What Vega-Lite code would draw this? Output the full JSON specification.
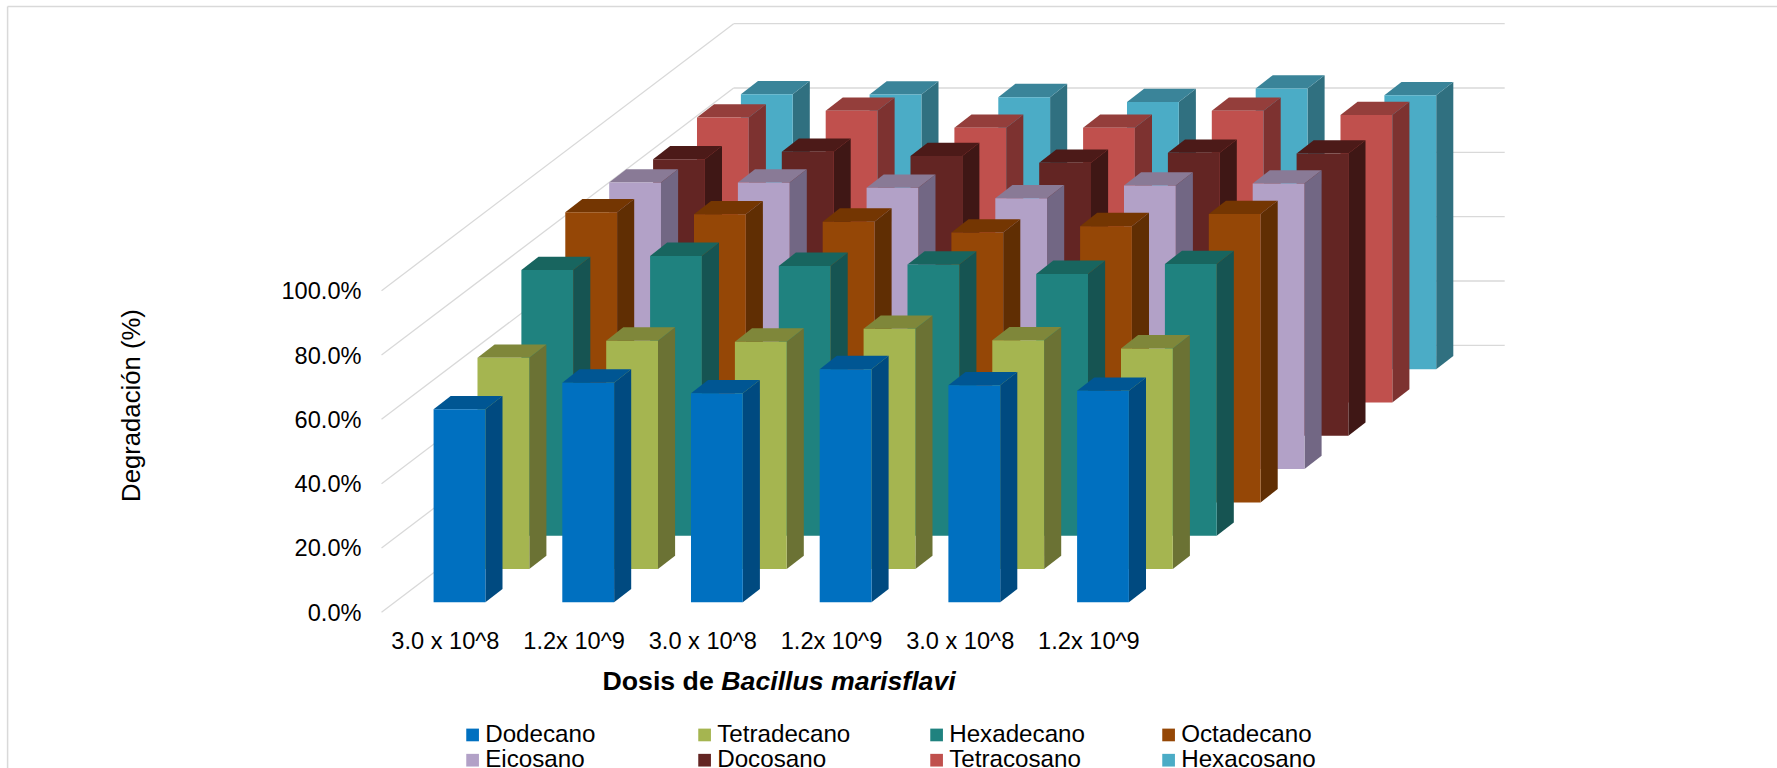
{
"$schema":"https://vega.github.io/schema/vega-lite/v6.json",
"width":1777,"height":768,"padding":0,"autosize":"none","background":"white",
"config":{"view":{"stroke":null},"axis":{"grid":false,"ticks":false,"domain":false,"title":null},"font":"Liberation Sans"},
"data":{"values":[
{"grupo":0,"serie":"Dodecano","s":0,"valor":60.0},{"grupo":1,"serie":"Dodecano","s":0,"valor":68.3},{"grupo":2,"serie":"Dodecano","s":0,"valor":65.0},{"grupo":3,"serie":"Dodecano","s":0,"valor":72.5},{"grupo":4,"serie":"Dodecano","s":0,"valor":67.5},{"grupo":5,"serie":"Dodecano","s":0,"valor":65.8},
{"grupo":0,"serie":"Tetradecano","s":1,"valor":65.7},{"grupo":1,"serie":"Tetradecano","s":1,"valor":71.0},{"grupo":2,"serie":"Tetradecano","s":1,"valor":70.7},{"grupo":3,"serie":"Tetradecano","s":1,"valor":74.7},{"grupo":4,"serie":"Tetradecano","s":1,"valor":71.1},{"grupo":5,"serie":"Tetradecano","s":1,"valor":68.6},
{"grupo":0,"serie":"Hexadecano","s":2,"valor":82.6},{"grupo":1,"serie":"Hexadecano","s":2,"valor":87.0},{"grupo":2,"serie":"Hexadecano","s":2,"valor":83.9},{"grupo":3,"serie":"Hexadecano","s":2,"valor":84.3},{"grupo":4,"serie":"Hexadecano","s":2,"valor":81.4},{"grupo":5,"serie":"Hexadecano","s":2,"valor":84.5},
{"grupo":0,"serie":"Octadecano","s":3,"valor":90.2},{"grupo":1,"serie":"Octadecano","s":3,"valor":89.6},{"grupo":2,"serie":"Octadecano","s":3,"valor":87.3},{"grupo":3,"serie":"Octadecano","s":3,"valor":83.9},{"grupo":4,"serie":"Octadecano","s":3,"valor":85.9},{"grupo":5,"serie":"Octadecano","s":3,"valor":89.7},
{"grupo":0,"serie":"Eicosano","s":4,"valor":89.1},{"grupo":1,"serie":"Eicosano","s":4,"valor":89.1},{"grupo":2,"serie":"Eicosano","s":4,"valor":87.5},{"grupo":3,"serie":"Eicosano","s":4,"valor":84.2},{"grupo":4,"serie":"Eicosano","s":4,"valor":88.2},{"grupo":5,"serie":"Eicosano","s":4,"valor":88.8},
{"grupo":0,"serie":"Docosano","s":5,"valor":86.0},{"grupo":1,"serie":"Docosano","s":5,"valor":88.3},{"grupo":2,"serie":"Docosano","s":5,"valor":87.0},{"grupo":3,"serie":"Docosano","s":5,"valor":84.9},{"grupo":4,"serie":"Docosano","s":5,"valor":88.0},{"grupo":5,"serie":"Docosano","s":5,"valor":87.8},
{"grupo":0,"serie":"Tetracosano","s":6,"valor":88.6},{"grupo":1,"serie":"Tetracosano","s":6,"valor":90.7},{"grupo":2,"serie":"Tetracosano","s":6,"valor":85.4},{"grupo":3,"serie":"Tetracosano","s":6,"valor":85.4},{"grupo":4,"serie":"Tetracosano","s":6,"valor":90.7},{"grupo":5,"serie":"Tetracosano","s":6,"valor":89.4},
{"grupo":0,"serie":"Hexacosano","s":7,"valor":85.5},{"grupo":1,"serie":"Hexacosano","s":7,"valor":85.4},{"grupo":2,"serie":"Hexacosano","s":7,"valor":84.6},{"grupo":3,"serie":"Hexacosano","s":7,"valor":83.1},{"grupo":4,"serie":"Hexacosano","s":7,"valor":87.3},{"grupo":5,"serie":"Hexacosano","s":7,"valor":85.2}
]},
"transform":[
{"calculate":"datum.grupo-0.0995+0.3411*datum.s","as":"xL"},
{"calculate":"datum.xL+0.4025","as":"xR"},
{"calculate":"3.11+10.354*datum.s","as":"yB"},
{"calculate":"datum.yB+datum.valor","as":"yT"},
{"calculate":"[0,1]","as":"t"},
{"flatten":["t"]},
{"calculate":"datum.xR+0.1329*datum.t","as":"xS"},
{"calculate":"datum.xL+0.1329*datum.t","as":"xA"},
{"calculate":"datum.yB+4.136*datum.t","as":"yS0"},
{"calculate":"datum.yT+4.136*datum.t","as":"yS1"}
],
"layer":[
{"data":{"values":[{"borde":0}]},"layer":[
{"mark":{"type":"rule","color":"#d9d9d9","strokeWidth":1.5},"encoding":{
"x":{"datum":-3.4095,"type":"quantitative","scale":{"domain":[-3.4685,10.3387],"nice":false,"zero":false},
"axis":{"orient":"bottom","offset":-119.7,"values":[0,1,2,3,4,5],"labelExpr":"datum.value%2==0?'3.0 x 10^8':'1.2x 10^9'","labelFontSize":23.6,"labelColor":"#000","labelPadding":0,"labelBaseline":"alphabetic","labelAngle":0,"labelFlush":false,"labelOverlap":false,"labelOffset":-1.5,"title":null}},
"y":{"datum":188.4,"type":"quantitative","scale":{"domain":[-48.41,190.39],"nice":false,"zero":false},
"axis":{"orient":"left","offset":-361,"values":[0,20,40,60,80,100],"labelExpr":"format(datum.value,'.1f')+'%'","labelFontSize":23.6,"labelColor":"#000","labelPadding":0,"labelOverlap":false,"labelOffset":1,"title":"Degradación (%)","titleFontSize":25.7,"titleFontWeight":"normal","titleColor":"#000","titleX":-230,"titleY":405,"titleBaseline":"middle"}},
"y2":{"datum":-48.41}}},
{"mark":{"type":"rule","color":"#d9d9d9","strokeWidth":1.5},"encoding":{"x":{"datum":-3.4095,"type":"quantitative"},"x2":{"datum":10.3387},"y":{"datum":188.4,"type":"quantitative"}}}
]},
{"data":{"values":[{"nivel":0},{"nivel":20},{"nivel":40},{"nivel":60},{"nivel":80},{"nivel":100}]},"transform":[{"calculate":"datum.nivel+83.02","as":"fondo"}],"layer":[
{"mark":{"type":"rule","color":"#d9d9d9","strokeWidth":1.3},"encoding":{"x":{"datum":-0.504,"type":"quantitative"},"x2":{"datum":2.232},"y":{"field":"nivel","type":"quantitative"},"y2":{"field":"fondo"}}},
{"mark":{"type":"rule","color":"#d9d9d9","strokeWidth":1.3},"encoding":{"x":{"datum":2.232,"type":"quantitative"},"x2":{"datum":8.223},"y":{"field":"fondo","type":"quantitative"}}}
]},
{"transform":[{"filter":"datum.s==7"}],"layer":[
{"mark":{"type":"area","orient":"vertical","color":"#307080"},"encoding":{"x":{"field":"xS","type":"quantitative"},"y":{"field":"yS1","type":"quantitative"},"y2":{"field":"yS0"},"detail":{"field":"grupo"}}},
{"mark":{"type":"area","orient":"horizontal","color":"#3A8499"},"encoding":{"y":{"field":"yS1","type":"quantitative"},"x":{"field":"xA","type":"quantitative"},"x2":{"field":"xS"},"detail":{"field":"grupo"}}},
{"transform":[{"filter":"datum.t==0"}],"mark":{"type":"rect"},"encoding":{"x":{"field":"xL","type":"quantitative"},"x2":{"field":"xR"},"y":{"field":"yT","type":"quantitative"},"y2":{"field":"yB"},
"color":{"field":"serie","type":"nominal","scale":{"domain":["Dodecano","Tetradecano","Hexadecano","Octadecano","Eicosano","Docosano","Tetracosano","Hexacosano"],"range":["#0070C0","#A5B550","#1F827F","#954706","#B2A1C7","#632523","#C0504D","#4BACC6"]},
"legend":{"orient":"none","direction":"horizontal","legendX":460.5,"legendY":722.5,"columns":4,"title":null,"gridAlign":"all","symbolType":"square","symbolSize":161,"symbolStrokeWidth":0,"labelFontSize":24.2,"labelColor":"#000","labelOffset":0.5,"columnPadding":71,"rowPadding":0.6,"labelLimit":300}}}}
]},
{"transform":[{"filter":"datum.s==6"}],"layer":[
{"mark":{"type":"area","orient":"vertical","color":"#7D3230"},"encoding":{"x":{"field":"xS","type":"quantitative"},"y":{"field":"yS1","type":"quantitative"},"y2":{"field":"yS0"},"detail":{"field":"grupo"}}},
{"mark":{"type":"area","orient":"horizontal","color":"#943E3B"},"encoding":{"y":{"field":"yS1","type":"quantitative"},"x":{"field":"xA","type":"quantitative"},"x2":{"field":"xS"},"detail":{"field":"grupo"}}},
{"transform":[{"filter":"datum.t==0"}],"mark":{"type":"rect"},"encoding":{"x":{"field":"xL","type":"quantitative"},"x2":{"field":"xR"},"y":{"field":"yT","type":"quantitative"},"y2":{"field":"yB"},"color":{"field":"serie","type":"nominal"}}}
]},
{"transform":[{"filter":"datum.s==5"}],"layer":[
{"mark":{"type":"area","orient":"vertical","color":"#3F1715"},"encoding":{"x":{"field":"xS","type":"quantitative"},"y":{"field":"yS1","type":"quantitative"},"y2":{"field":"yS0"},"detail":{"field":"grupo"}}},
{"mark":{"type":"area","orient":"horizontal","color":"#4C1A18"},"encoding":{"y":{"field":"yS1","type":"quantitative"},"x":{"field":"xA","type":"quantitative"},"x2":{"field":"xS"},"detail":{"field":"grupo"}}},
{"transform":[{"filter":"datum.t==0"}],"mark":{"type":"rect"},"encoding":{"x":{"field":"xL","type":"quantitative"},"x2":{"field":"xR"},"y":{"field":"yT","type":"quantitative"},"y2":{"field":"yB"},"color":{"field":"serie","type":"nominal"}}}
]},
{"transform":[{"filter":"datum.s==4"}],"layer":[
{"mark":{"type":"area","orient":"vertical","color":"#726784"},"encoding":{"x":{"field":"xS","type":"quantitative"},"y":{"field":"yS1","type":"quantitative"},"y2":{"field":"yS0"},"detail":{"field":"grupo"}}},
{"mark":{"type":"area","orient":"horizontal","color":"#897A96"},"encoding":{"y":{"field":"yS1","type":"quantitative"},"x":{"field":"xA","type":"quantitative"},"x2":{"field":"xS"},"detail":{"field":"grupo"}}},
{"transform":[{"filter":"datum.t==0"}],"mark":{"type":"rect"},"encoding":{"x":{"field":"xL","type":"quantitative"},"x2":{"field":"xR"},"y":{"field":"yT","type":"quantitative"},"y2":{"field":"yB"},"color":{"field":"serie","type":"nominal"}}}
]},
{"transform":[{"filter":"datum.s==3"}],"layer":[
{"mark":{"type":"area","orient":"vertical","color":"#602E03"},"encoding":{"x":{"field":"xS","type":"quantitative"},"y":{"field":"yS1","type":"quantitative"},"y2":{"field":"yS0"},"detail":{"field":"grupo"}}},
{"mark":{"type":"area","orient":"horizontal","color":"#743602"},"encoding":{"y":{"field":"yS1","type":"quantitative"},"x":{"field":"xA","type":"quantitative"},"x2":{"field":"xS"},"detail":{"field":"grupo"}}},
{"transform":[{"filter":"datum.t==0"}],"mark":{"type":"rect"},"encoding":{"x":{"field":"xL","type":"quantitative"},"x2":{"field":"xR"},"y":{"field":"yT","type":"quantitative"},"y2":{"field":"yB"},"color":{"field":"serie","type":"nominal"}}}
]},
{"transform":[{"filter":"datum.s==2"}],"layer":[
{"mark":{"type":"area","orient":"vertical","color":"#165452"},"encoding":{"x":{"field":"xS","type":"quantitative"},"y":{"field":"yS1","type":"quantitative"},"y2":{"field":"yS0"},"detail":{"field":"grupo"}}},
{"mark":{"type":"area","orient":"horizontal","color":"#18655F"},"encoding":{"y":{"field":"yS1","type":"quantitative"},"x":{"field":"xA","type":"quantitative"},"x2":{"field":"xS"},"detail":{"field":"grupo"}}},
{"transform":[{"filter":"datum.t==0"}],"mark":{"type":"rect"},"encoding":{"x":{"field":"xL","type":"quantitative"},"x2":{"field":"xR"},"y":{"field":"yT","type":"quantitative"},"y2":{"field":"yB"},"color":{"field":"serie","type":"nominal"}}}
]},
{"transform":[{"filter":"datum.s==1"}],"layer":[
{"mark":{"type":"area","orient":"vertical","color":"#6B7234"},"encoding":{"x":{"field":"xS","type":"quantitative"},"y":{"field":"yS1","type":"quantitative"},"y2":{"field":"yS0"},"detail":{"field":"grupo"}}},
{"mark":{"type":"area","orient":"horizontal","color":"#7F873A"},"encoding":{"y":{"field":"yS1","type":"quantitative"},"x":{"field":"xA","type":"quantitative"},"x2":{"field":"xS"},"detail":{"field":"grupo"}}},
{"transform":[{"filter":"datum.t==0"}],"mark":{"type":"rect"},"encoding":{"x":{"field":"xL","type":"quantitative"},"x2":{"field":"xR"},"y":{"field":"yT","type":"quantitative"},"y2":{"field":"yB"},"color":{"field":"serie","type":"nominal"}}}
]},
{"transform":[{"filter":"datum.s==0"}],"layer":[
{"mark":{"type":"area","orient":"vertical","color":"#004A80"},"encoding":{"x":{"field":"xS","type":"quantitative"},"y":{"field":"yS1","type":"quantitative"},"y2":{"field":"yS0"},"detail":{"field":"grupo"}}},
{"mark":{"type":"area","orient":"horizontal","color":"#005693"},"encoding":{"y":{"field":"yS1","type":"quantitative"},"x":{"field":"xA","type":"quantitative"},"x2":{"field":"xS"},"detail":{"field":"grupo"}}},
{"transform":[{"filter":"datum.t==0"}],"mark":{"type":"rect"},"encoding":{"x":{"field":"xL","type":"quantitative"},"x2":{"field":"xR"},"y":{"field":"yT","type":"quantitative"},"y2":{"field":"yB"},"color":{"field":"serie","type":"nominal"}}}
]},
{"data":{"values":[{"parte":"Dosis de","x":1.2129},{"parte":"Bacillus marisflavi","x":2.136}]},"transform":[{"calculate":"-24.16","as":"base"}],"layer":[
{"transform":[{"filter":"datum.x<2"}],"mark":{"type":"text","align":"left","baseline":"alphabetic","fontSize":26.7,"fontWeight":"bold","color":"#000"},"encoding":{"x":{"field":"x","type":"quantitative"},"y":{"field":"base","type":"quantitative"},"text":{"field":"parte"}}},
{"transform":[{"filter":"datum.x>2"}],"mark":{"type":"text","align":"left","baseline":"alphabetic","fontSize":26.7,"fontWeight":"bold","fontStyle":"italic","color":"#000"},"encoding":{"x":{"field":"x","type":"quantitative"},"y":{"field":"base","type":"quantitative"},"text":{"field":"parte"}}}
]}
]
}
